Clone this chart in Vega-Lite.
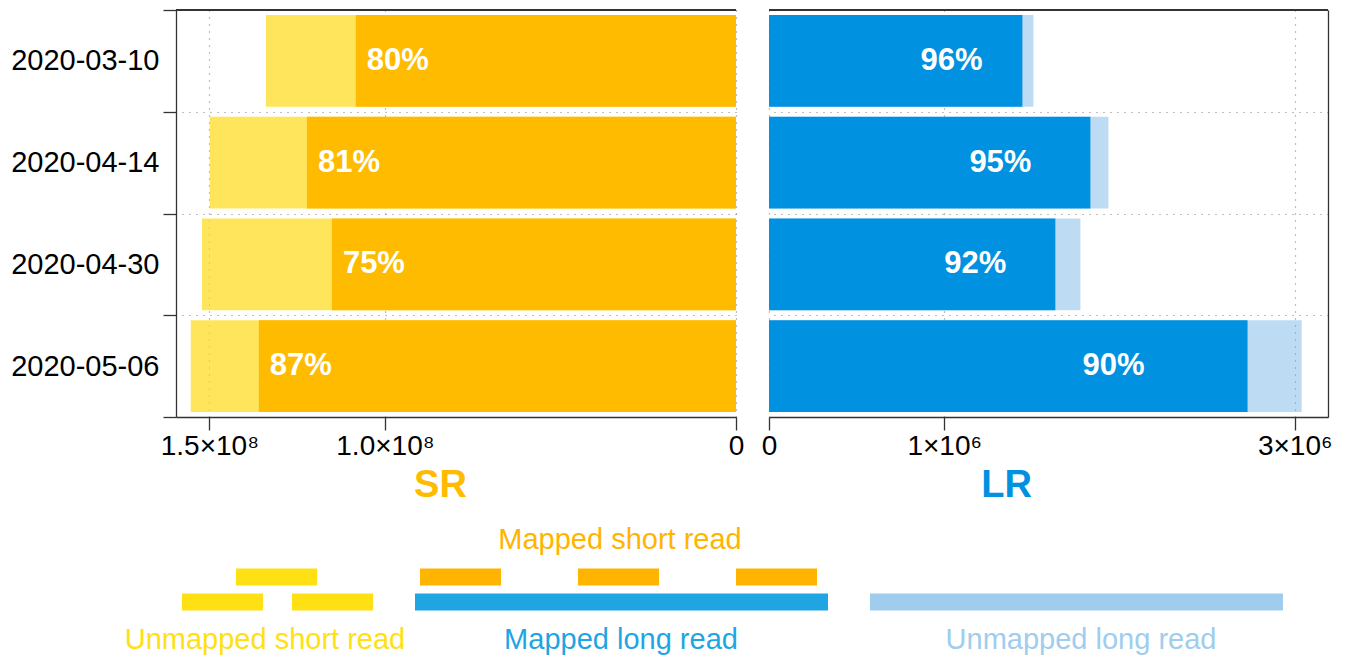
{
  "$schema": "https://vega.github.io/schema/vega-lite/v6.json",
  "padding": {"left": 10, "top": -4, "right": 5, "bottom": 0},
  "background": "white",
  "config": {
    "font": "Liberation Sans",
    "view": {"stroke": null},
    "axis": {
      "labelFontSize": 28,
      "labelColor": "black",
      "domainColor": "#333333",
      "tickColor": "#333333",
      "domainWidth": 1.3,
      "tickWidth": 1.3,
      "gridColor": "#808080",
      "gridDash": [1, 6],
      "gridWidth": 1.2
    }
  },
  "datasets": {
    "reads": [
      {"date": "2020-03-10", "type": "SR", "mapped": 108300000, "total": 133900000, "pct": "80%"},
      {"date": "2020-04-14", "type": "SR", "mapped": 122200000, "total": 149900000, "pct": "81%"},
      {"date": "2020-04-30", "type": "SR", "mapped": 115100000, "total": 152100000, "pct": "75%"},
      {"date": "2020-05-06", "type": "SR", "mapped": 135900000, "total": 155300000, "pct": "87%"},
      {"date": "2020-03-10", "type": "LR", "mapped": 1446000, "total": 1509000, "pct": "96%"},
      {"date": "2020-04-14", "type": "LR", "mapped": 1834000, "total": 1937000, "pct": "95%"},
      {"date": "2020-04-30", "type": "LR", "mapped": 1634000, "total": 1777000, "pct": "92%"},
      {"date": "2020-05-06", "type": "LR", "mapped": 2731000, "total": 3040000, "pct": "90%"}
    ],
    "legend": [
      {"read": "Mapped short read", "kind": "label", "lane": 0, "start": 619},
      {"read": "Unmapped short read", "kind": "segment", "lane": 1.48, "start": 235, "end": 316},
      {"read": "Mapped short read", "kind": "segment", "lane": 1.48, "start": 419, "end": 500},
      {"read": "Mapped short read", "kind": "segment", "lane": 1.48, "start": 577, "end": 658},
      {"read": "Mapped short read", "kind": "segment", "lane": 1.48, "start": 735, "end": 816},
      {"read": "Unmapped short read", "kind": "segment", "lane": 2.48, "start": 181, "end": 262},
      {"read": "Unmapped short read", "kind": "segment", "lane": 2.48, "start": 291, "end": 372},
      {"read": "Mapped long read", "kind": "segment", "lane": 2.48, "start": 414, "end": 827},
      {"read": "Unmapped long read", "kind": "segment", "lane": 2.48, "start": 869, "end": 1282},
      {"read": "Unmapped short read", "kind": "label", "lane": 4, "start": 264},
      {"read": "Mapped long read", "kind": "label", "lane": 4, "start": 620},
      {"read": "Unmapped long read", "kind": "label", "lane": 4, "start": 1080}
    ]
  },
  "spacing": 10,
  "resolve": {"scale": {"x": "independent", "y": "independent", "color": "independent"}},
  "vconcat": [
    {
      "spacing": 17,
      "resolve": {"scale": {"x": "independent", "y": "shared"}},
      "hconcat": [
        {
          "width": 560,
          "height": 407,
          "data": {"name": "reads"},
          "transform": [{"filter": "datum.type == 'SR'"}],
          "encoding": {
            "y": {
              "field": "date",
              "type": "nominal",
              "scale": {"paddingInner": 0, "paddingOuter": 0},
              "axis": {
                "title": null,
                "orient": "left",
                "tickBand": "extent",
                "tickSize": 13,
                "labelPadding": 4,
                "labelFontSize": 29,
                "minExtent": 165,
                "maxExtent": 165,
                "grid": true
              }
            }
          },
          "layer": [
            {
              "mark": {"type": "bar", "color": "#FFDA16", "opacity": 0.7, "height": {"band": 0.9}},
              "encoding": {
                "x": {
                  "field": "total",
                  "type": "quantitative",
                  "scale": {"domain": [0, 159500000], "reverse": true, "nice": false, "zero": true},
                  "axis": {
                    "values": [0, 100000000, 150000000],
                    "labelExpr": "datum.value == 0 ? '0' : (datum.value == 100000000 ? '1.0×10⁸' : '1.5×10⁸')",
                    "labelFlush": false,
                    "labelOverlap": false,
                    "tickSize": 13,
                    "labelPadding": 2,
                    "grid": true,
                    "title": "SR",
                    "titleFontSize": 38,
                    "titleFontWeight": "bold",
                    "titleColor": "#FFBB00",
                    "titlePadding": 6,
                    "titleX": 264
                  }
                }
              }
            },
            {
              "mark": {"type": "bar", "color": "#FFBB00", "height": {"band": 0.9}},
              "encoding": {"x": {"field": "mapped", "type": "quantitative"}}
            },
            {
              "mark": {"type": "text", "align": "left", "baseline": "middle", "dx": 11, "color": "white", "fontWeight": "bold", "fontSize": 31},
              "encoding": {
                "x": {"field": "mapped", "type": "quantitative"},
                "text": {"field": "pct"}
              }
            },
            {
              "mark": {"type": "rule", "color": "#333333", "strokeWidth": 1.3},
              "encoding": {"y": {"datum": "2020-03-10", "type": "nominal", "bandPosition": 0}}
            }
          ]
        },
        {
          "width": 559,
          "height": 407,
          "data": {"name": "reads"},
          "transform": [{"filter": "datum.type == 'LR'"}],
          "encoding": {
            "y": {
              "field": "date",
              "type": "nominal",
              "axis": {
                "title": null,
                "orient": "right",
                "tickBand": "extent",
                "ticks": false,
                "labels": false,
                "grid": true,
                "minExtent": 0,
                "maxExtent": 0
              }
            }
          },
          "layer": [
            {
              "mark": {"type": "bar", "color": "#5AA7E3", "opacity": 0.4, "height": {"band": 0.9}},
              "encoding": {
                "x": {
                  "field": "total",
                  "type": "quantitative",
                  "scale": {"domain": [0, 3190000], "nice": false, "zero": true},
                  "axis": {
                    "values": [0, 1000000, 3000000],
                    "labelExpr": "datum.value == 0 ? '0' : (datum.value == 1000000 ? '1×10⁶' : '3×10⁶')",
                    "labelFlush": false,
                    "labelOverlap": false,
                    "tickSize": 13,
                    "labelPadding": 2,
                    "grid": true,
                    "title": "LR",
                    "titleFontSize": 38,
                    "titleFontWeight": "bold",
                    "titleColor": "#0091E1",
                    "titlePadding": 6,
                    "titleX": 237
                  }
                }
              }
            },
            {
              "mark": {"type": "bar", "color": "#0091E1", "height": {"band": 0.9}},
              "encoding": {"x": {"field": "mapped", "type": "quantitative"}}
            },
            {
              "transform": [{"calculate": "datum.mapped * 0.72", "as": "labelpos"}],
              "mark": {"type": "text", "align": "center", "baseline": "middle", "color": "white", "fontWeight": "bold", "fontSize": 31},
              "encoding": {
                "x": {"field": "labelpos", "type": "quantitative"},
                "text": {"field": "pct"}
              }
            },
            {
              "mark": {"type": "rule", "color": "#333333", "strokeWidth": 1.3},
              "encoding": {"y": {"datum": "2020-03-10", "type": "nominal", "bandPosition": 0}}
            }
          ]
        }
      ]
    },
    {
      "width": 1168,
      "height": 140,
      "data": {"name": "legend"},
      "encoding": {
        "x": {"field": "start", "type": "quantitative", "scale": {"domain": [175, 1343], "nice": false, "zero": false}, "axis": null},
        "y": {"field": "lane", "type": "quantitative", "scale": {"domain": [-1.04, 4.56], "reverse": true, "nice": false, "zero": false}, "axis": null},
        "color": {
          "field": "read",
          "type": "nominal",
          "scale": {
            "domain": ["Unmapped short read", "Mapped short read", "Mapped long read", "Unmapped long read"],
            "range": ["#FFE014", "#FFB400", "#1FA5E2", "#A0CDEE"]
          },
          "legend": null
        }
      },
      "layer": [
        {
          "transform": [{"filter": "datum.kind == 'segment'"}],
          "mark": {"type": "rule", "strokeWidth": 17, "strokeCap": "butt"},
          "encoding": {"x2": {"field": "end"}}
        },
        {
          "transform": [{"filter": "datum.kind == 'label'"}],
          "mark": {"type": "text", "fontSize": 29, "baseline": "middle", "align": "center"},
          "encoding": {"text": {"field": "read"}}
        }
      ]
    }
  ]
}
